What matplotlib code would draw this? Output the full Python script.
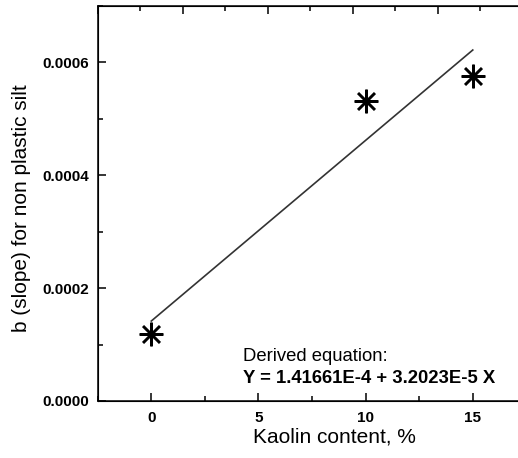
import matplotlib
matplotlib.use("Agg")
import matplotlib.pyplot as plt
from matplotlib.ticker import MultipleLocator, FormatStrFormatter, NullFormatter

plt.rcParams['font.family'] = ['Liberation Sans', 'DejaVu Sans']

# Measured slope b for non plastic silt vs kaolin content
kaolin = [0, 10, 15]
slope_b = [0.000118, 0.000531, 0.000576]

# Linear fit coefficients
intercept = 1.41661e-4
coef = 3.2023e-5
fit_x = [0, 15]
fit_y = [intercept + coef * x for x in fit_x]

fig = plt.figure(figsize=(5.18, 4.58), dpi=100)
ax = fig.add_axes([0.1886, 0.1245, 0.8205, 0.8624])

ax.plot(fit_x, fit_y, color='#333333', lw=1.2)
ax.plot(kaolin, slope_b, linestyle='none', marker=(8, 2, 0), markersize=17,
        markeredgewidth=1.8, color='black')

ax.set_xlim(-2.5, 17.33)
ax.set_ylim(0, 0.0007)
ax.xaxis.set_major_locator(MultipleLocator(5))
ax.xaxis.set_minor_locator(MultipleLocator(2.5))
ax.yaxis.set_major_locator(MultipleLocator(0.0002))
ax.yaxis.set_minor_locator(MultipleLocator(0.0001))
ax.yaxis.set_major_formatter(FormatStrFormatter('%.4f'))

ax.tick_params(which='both', direction='in', top=False, right=False, width=1.1)
ax.tick_params(which='major', length=6, labelsize=11)
ax.tick_params(axis='x', which='major', pad=7.5)
ax.tick_params(axis='y', which='major', pad=6)
ax.tick_params(which='minor', length=3.5)
for lbl in ax.get_xticklabels() + ax.get_yticklabels():
    lbl.set_fontweight('bold')
for sp in ax.spines.values():
    sp.set_linewidth(1.1)

# top frame axis with its own evenly spaced ticks
top = ax.twiny()
top.set_xlim(0, 1)
top.xaxis.set_major_locator(MultipleLocator(0.2))
top.xaxis.set_minor_locator(MultipleLocator(0.1))
top.xaxis.set_major_formatter(NullFormatter())
top.tick_params(which='both', direction='in', width=1.1)
top.tick_params(which='major', length=6)
top.tick_params(which='minor', length=3.5)

ax.set_xlabel('Kaolin content, %', fontsize=15)
ax.xaxis.set_label_coords(0.558, -0.068)
ax.set_ylabel('b (slope) for non plastic silt', fontsize=15)
ax.yaxis.set_label_coords(-0.157, 0.487)

ax.text(4.29, 7.14e-5, 'Derived equation:', fontsize=13.3, va='baseline')
ax.text(4.29, 3.24e-5, 'Y = 1.41661E-4 + 3.2023E-5 X', fontsize=13.3,
        fontweight='bold', va='baseline')

fig.savefig('out.png', dpi=100)
